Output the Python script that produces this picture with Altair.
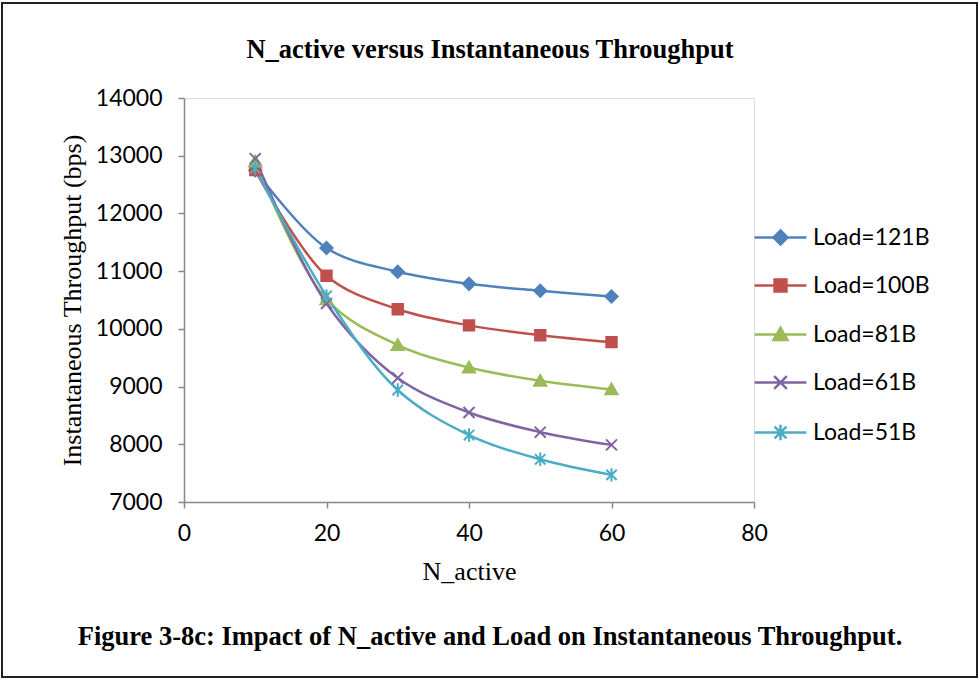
import altair as alt
import pandas as pd

n_active = [10, 20, 30, 40, 50, 60]
series_names = ["Load=121B", "Load=100B", "Load=81B", "Load=61B", "Load=51B"]
load_121 = [12750, 11400, 10990, 10780, 10660, 10560]
load_100 = [12750, 10920, 10340, 10060, 9890, 9770]
load_81 = [12900, 10510, 9720, 9330, 9100, 8950]
load_61 = [12950, 10440, 9150, 8550, 8210, 7990]
load_51 = [12780, 10570, 8940, 8160, 7740, 7470]

colors = ["#4F81BD", "#C0504D", "#9BBB59", "#8064A2", "#4BACC6"]
shapes = [
    "M0,-1L1,0L0,1L-1,0Z",
    "M-0.85,-0.85H0.85V0.85H-0.85Z",
    "M0,-0.95L1,0.8H-1Z",
    "M-0.9,-0.9L0.9,0.9M-0.9,0.9L0.9,-0.9",
    "M-0.85,-0.85L0.85,0.85M-0.85,0.85L0.85,-0.85M0,-1.1V1.1",
]
legend_shapes = ["M-3.7,0H3.7" + s for s in shapes]

rows = []
for name, vals in zip(series_names, [load_121, load_100, load_81, load_61, load_51]):
    for x, y in zip(n_active, vals):
        rows.append({"n": x, "tp": y, "series": name})
df = pd.DataFrame(rows)

W, H = 570, 404
PL, PT = 184, 98

legend = alt.Legend(
    title=None,
    orient="none",
    legendX=585,
    legendY=128,
    padding=0,
    symbolSize=196,
    symbolStrokeWidth=2.5,
    labelFont="Lato",
    labelFontSize=23,
    labelColor="black",
    labelOffset=21,
    rowPadding=24,
)

axis_common = dict(
    titleFont="Liberation Serif",
    titleFontSize=26,
    titleFontWeight="normal",
    titleColor="black",
    titleBaseline="alphabetic",
    labelFont="Lato",
    labelFontSize=23,
    labelColor="black",
    labelFlush=False,
    tickSize=6,
    grid=False,
    domainColor="#888888",
    tickColor="#888888",
    domainWidth=1.5,
    tickWidth=1.5,
    format="d",
)

x_enc = alt.X(
    "n:Q",
    scale=alt.Scale(domain=[0, 80], nice=False),
    axis=alt.Axis(
        values=[0, 20, 40, 60, 80],
        title="N_active",
        titleY=77,
        labelPadding=14,
        **axis_common,
    ),
)
y_enc = alt.Y(
    "tp:Q",
    scale=alt.Scale(domain=[7000, 14000], nice=False, zero=False),
    axis=alt.Axis(
        values=list(range(7000, 14001, 1000)),
        title="Instantaneous Throughput (bps)",
        titleX=-104,
        titleY=H / 2,
        labelPadding=16,
        **axis_common,
    ),
)

base = alt.Chart(df)

lines = base.mark_line(interpolate="catmull-rom", strokeWidth=2.5).encode(
    x=x_enc,
    y=y_enc,
    color=alt.Color("series:N", scale=alt.Scale(domain=series_names, range=colors), legend=None),
)

points = base.mark_point(filled=True, size=150, strokeWidth=2, opacity=1).encode(
    x=x_enc,
    y=y_enc,
    color=alt.Color("series:N", scale=alt.Scale(domain=series_names, range=colors), legend=None),
    shape=alt.Shape("series:N", scale=alt.Scale(domain=series_names, range=shapes), legend=None),
    stroke=alt.Stroke("series:N", scale=alt.Scale(domain=series_names, range=colors), legend=None),
)

legend_layer = base.transform_filter("datum.n < 0").mark_point(filled=True, opacity=1).encode(
    x=x_enc,
    y=y_enc,
    fill=alt.Fill("series:N", scale=alt.Scale(domain=series_names, range=colors), legend=legend),
    stroke=alt.Stroke("series:N", scale=alt.Scale(domain=series_names, range=colors), legend=legend),
    shape=alt.Shape("series:N", scale=alt.Scale(domain=series_names, range=legend_shapes), legend=legend),
)

frame_df = pd.DataFrame({"k": [0]})
frame = alt.Chart(frame_df).mark_rect(fill=None, stroke="#222222", strokeWidth=2).encode(
    x=alt.value(-182), x2=alt.value(793), y=alt.value(-95), y2=alt.value(579)
)

title_df = pd.DataFrame({"t": ["N_active versus Instantaneous Throughput"]})
title = alt.Chart(title_df).mark_text(
    font="Liberation Serif", fontSize=26.5, fontWeight="bold", color="black",
    align="center", baseline="alphabetic",
).encode(text="t:N", x=alt.value(306), y=alt.value(-40))

caption_df = pd.DataFrame({"t": ["Figure 3-8c: Impact of N_active and Load on Instantaneous Throughput."]})
caption = alt.Chart(caption_df).mark_text(
    font="Liberation Serif", fontSize=26.5, fontWeight="bold", color="black",
    align="center", baseline="alphabetic",
).encode(text="t:N", x=alt.value(306), y=alt.value(547))

chart = alt.layer(frame, lines, points, legend_layer, title, caption).resolve_scale(
    shape="independent", stroke="independent", fill="independent"
).properties(
    width=W,
    height=H,
    padding={"left": PL, "top": PT, "right": 980 - PL - W, "bottom": 681 - PT - H},
    autosize=alt.AutoSizeParams(type="none"),
).configure_view(stroke=None).configure(background="white")

chart.save("out.html", embed_options={"renderer": "svg", "actions": False})
